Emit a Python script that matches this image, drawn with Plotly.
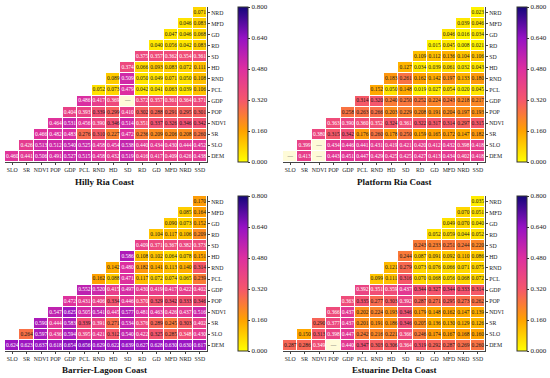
import plotly.graph_objects as go

COLS = ["SLO", "SR", "NDVI", "POP", "GDP", "PCL", "RND", "HD", "SD", "RD", "GD", "MFD", "NRD", "SSD"]
ROWS = ["DEM", "SLO", "SR", "NDVI", "POP", "GDP", "PCL", "RND", "HD", "SD", "RD", "GD", "MFD", "NRD"]
CB_TICKS = [0.0, 0.16, 0.32, 0.48, 0.64, 0.8]

# Row k (ROWS[k]) holds values for COLS[k:]; None = missing cell shown as "—"
HILLY = [
    [0.460, 0.441, 0.506, 0.491, 0.527, 0.515, 0.458, 0.432, 0.519, 0.416, 0.417, 0.409, 0.426, 0.438],
    [0.426, 0.513, 0.512, 0.540, 0.525, 0.458, 0.454, 0.538, 0.440, 0.434, 0.430, 0.444, 0.452],
    [0.466, 0.482, 0.483, 0.276, 0.310, 0.227, 0.472, 0.236, 0.209, 0.206, 0.208, 0.260],
    [0.464, 0.531, 0.456, 0.390, 0.346, 0.514, 0.351, 0.337, 0.326, 0.346, 0.342],
    [0.404, 0.393, 0.339, 0.299, 0.410, 0.302, 0.288, 0.291, 0.295, 0.301],
    [0.486, 0.417, 0.369, None, 0.372, 0.357, 0.361, 0.364, 0.371],
    [0.052, 0.073, 0.479, 0.042, 0.041, 0.063, 0.039, 0.106],
    [0.089, 0.509, 0.050, 0.049, 0.071, 0.050, 0.108],
    [0.374, 0.066, 0.093, 0.083, 0.072, 0.111],
    [0.375, 0.357, 0.362, 0.354, 0.361],
    [0.040, 0.056, 0.042, 0.083],
    [0.047, 0.046, 0.068],
    [0.046, 0.083],
    [0.071],
]

PLATFORM = [
    [None, 0.413, None, 0.443, 0.451, 0.447, 0.429, 0.425, 0.425, 0.427, 0.413, 0.434, 0.402, 0.418],
    [0.399, None, 0.434, 0.446, 0.441, 0.431, 0.419, 0.421, 0.420, 0.412, 0.432, 0.398, 0.418],
    [0.380, 0.315, 0.342, 0.176, 0.260, 0.178, 0.250, 0.159, 0.165, 0.172, 0.147, 0.182],
    [0.363, 0.390, 0.360, 0.352, 0.324, 0.361, 0.322, 0.317, 0.314, 0.297, 0.315],
    [0.258, 0.263, 0.266, 0.203, 0.229, 0.208, 0.191, 0.204, 0.197, 0.193],
    [0.314, 0.320, 0.240, 0.250, 0.252, 0.224, 0.243, 0.218, 0.217],
    [0.152, 0.050, 0.148, 0.019, 0.027, 0.054, 0.020, 0.045],
    [0.183, 0.261, 0.162, 0.142, 0.197, 0.133, 0.180],
    [0.127, 0.034, 0.039, 0.061, 0.032, 0.043],
    [0.109, 0.112, 0.136, 0.104, 0.106],
    [0.015, 0.045, 0.008, 0.021],
    [0.046, 0.016, 0.034],
    [0.039, 0.046],
    [0.023],
]

BARRIER = [
    [0.624, 0.623, 0.637, 0.618, 0.654, 0.656, 0.629, 0.622, 0.639, 0.627, 0.628, 0.630, 0.630, 0.617],
    [0.264, 0.597, 0.436, 0.594, 0.395, 0.421, 0.312, 0.540, 0.422, 0.325, 0.285, 0.348, 0.430],
    [0.590, 0.444, 0.583, 0.339, 0.391, 0.271, 0.534, 0.376, 0.289, 0.245, 0.303, 0.402],
    [0.547, 0.625, 0.505, 0.541, 0.445, 0.577, 0.481, 0.463, 0.426, 0.437, 0.516],
    [0.472, 0.431, 0.406, 0.334, 0.446, 0.370, 0.329, 0.342, 0.333, 0.346],
    [0.552, 0.520, 0.415, 0.497, 0.430, 0.419, 0.417, 0.422, 0.402],
    [0.162, 0.088, 0.471, 0.117, 0.072, 0.074, 0.065, 0.239],
    [0.142, 0.480, 0.182, 0.141, 0.113, 0.140, 0.314],
    [0.586, 0.108, 0.102, 0.064, 0.078, 0.151],
    [0.409, 0.371, 0.367, 0.382, 0.373],
    [0.104, 0.117, 0.106, 0.209],
    [0.090, 0.073, 0.152],
    [0.085, 0.164],
    [0.170],
]

ESTUARINE = [
    [0.287, 0.286, 0.349, None, 0.440, 0.347, 0.303, 0.306, 0.364, 0.319, 0.292, 0.287, 0.269, 0.260],
    [0.150, 0.313, 0.398, 0.447, 0.242, 0.216, 0.221, 0.366, 0.246, 0.174, 0.167, 0.168, 0.160],
    [0.290, 0.377, 0.437, 0.201, 0.191, 0.186, 0.346, 0.205, 0.136, 0.130, 0.129, 0.126],
    [0.366, 0.437, 0.202, 0.224, 0.193, 0.346, 0.179, 0.148, 0.162, 0.147, 0.139],
    [0.363, 0.335, 0.277, 0.303, 0.392, 0.287, 0.271, 0.295, 0.273, 0.262],
    [0.392, 0.351, 0.359, 0.437, 0.344, 0.327, 0.344, 0.333, 0.314],
    [0.099, 0.111, 0.316, 0.070, 0.068, 0.056, 0.068, 0.072],
    [0.121, 0.279, 0.073, 0.076, 0.066, 0.071, 0.075],
    [0.244, 0.087, 0.091, 0.092, 0.110, 0.086],
    [0.243, 0.233, 0.251, 0.244, 0.220],
    [0.052, 0.059, 0.044, 0.052],
    [0.049, 0.070, 0.040],
    [0.070, 0.051],
    [0.035],
]

TITLES = ["Hilly Ria Coast", "Platform Ria Coast", "Barrier-Lagoon Coast", "Estuarine Delta Coast"]
DATA = [HILLY, PLATFORM, BARRIER, ESTUARINE]

W, H = 550, 378
FONT = "Liberation Serif"
COLORSCALE = [
    [0.0, "#ffff00"],
    [0.2, "#ffa200"],
    [0.4, "#f5566c"],
    [0.6, "#dd2fa0"],
    [0.8, "#9612c4"],
    [1.0, "#14067a"],
]
MISSING = "#fefbd8"

# pixel layout per panel: (x0, x1, ytop, ybottom, colorbar_x, title_x, title_y)
LAYOUT = [
    (5, 207, 7, 162, 238, 104, 182),
    (283, 485, 7, 162, 517, 394, 182),
    (5, 207, 196, 351, 238, 104, 370),
    (283, 485, 196, 351, 517, 394, 370),
]

fig = go.Figure()
annotations = []

for p, (title, rows_data) in enumerate(zip(TITLES, DATA)):
    x0, x1, yt, yb, cbx, tx, ty = LAYOUT[p]
    sfx = "" if p == 0 else str(p + 1)
    xa, ya = "x" + sfx, "y" + sfx

    z = [[None] * len(COLS) for _ in ROWS]
    zm = [[None] * len(COLS) for _ in ROWS]
    tx_x, tx_y, tx_t, tx_c = [], [], [], []
    for i, row in enumerate(rows_data):
        for k, v in enumerate(row):
            j = i + k
            tx_x.append(COLS[j])
            tx_y.append(ROWS[i])
            if v is None:
                zm[i][j] = 1
                tx_t.append("—")
                tx_c.append("#555555")
            else:
                z[i][j] = v
                tx_t.append(f"{v:.3f}")
                tx_c.append("white" if v >= 0.348 else "#1a1a1a")

    cb_len = (yb - yt) / H
    cb_y = 1 - (yt + yb) / 2 / H
    fig.add_trace(go.Heatmap(
        z=z, x=COLS, y=ROWS, xaxis=xa, yaxis=ya,
        zmin=0, zmax=0.8, colorscale=COLORSCALE, xgap=1, ygap=1,
        hoverongaps=False,
        colorbar=dict(
            x=cbx / W, xanchor="left", y=cb_y, yanchor="middle",
            len=cb_len, lenmode="fraction", thickness=10,
            xpad=0, ypad=0, outlinewidth=1, outlinecolor="#333333",
            tickvals=CB_TICKS, ticktext=[f"{t:.3f}" for t in CB_TICKS],
            ticks="outside", ticklen=2, tickcolor="#333333",
            tickfont=dict(family=FONT, size=7, color="#222222"),
        ),
    ))
    fig.add_trace(go.Heatmap(
        z=zm, x=COLS, y=ROWS, xaxis=xa, yaxis=ya,
        zmin=0, zmax=1, colorscale=[[0, MISSING], [1, MISSING]],
        showscale=False, xgap=1, ygap=1, hoverongaps=False,
    ))
    fig.add_trace(go.Scatter(
        x=tx_x, y=tx_y, xaxis=xa, yaxis=ya, mode="text", text=tx_t,
        textfont=dict(family=FONT, size=5.5, color=tx_c),
        showlegend=False, hoverinfo="skip",
    ))

    axis_common = dict(
        showline=True, linecolor="#444444", linewidth=1,
        ticks="outside", ticklen=2, tickcolor="#444444",
        tickfont=dict(family=FONT, size=5.8, color="#222222"),
        showgrid=False, zeroline=False, type="category", tickangle=0,
    )
    fig.layout["xaxis" + sfx] = dict(
        domain=[x0 / W, x1 / W], anchor=ya, side="bottom",
        categoryorder="array", categoryarray=COLS, range=[-0.5, 13.5],
        **axis_common,
    )
    fig.layout["yaxis" + sfx] = dict(
        domain=[1 - yb / H, 1 - yt / H], anchor=xa, side="right",
        categoryorder="array", categoryarray=ROWS, range=[-0.5, 13.5],
        **axis_common,
    )
    annotations.append(dict(
        text="<b>" + title + "</b>", x=tx / W, y=1 - ty / H,
        xref="paper", yref="paper", xanchor="center", yanchor="middle",
        showarrow=False, font=dict(family=FONT, size=9, color="#111111"),
    ))

fig.update_layout(
    width=W, height=H, margin=dict(l=0, r=0, t=0, b=0),
    paper_bgcolor="white", plot_bgcolor="white",
    showlegend=False, annotations=annotations,
    font=dict(family=FONT),
)

fig.write_html(
    "out.html",
    config={"displayModeBar": False},
    post_script="document.body.style.margin='0';document.body.style.overflow='hidden';",
)
